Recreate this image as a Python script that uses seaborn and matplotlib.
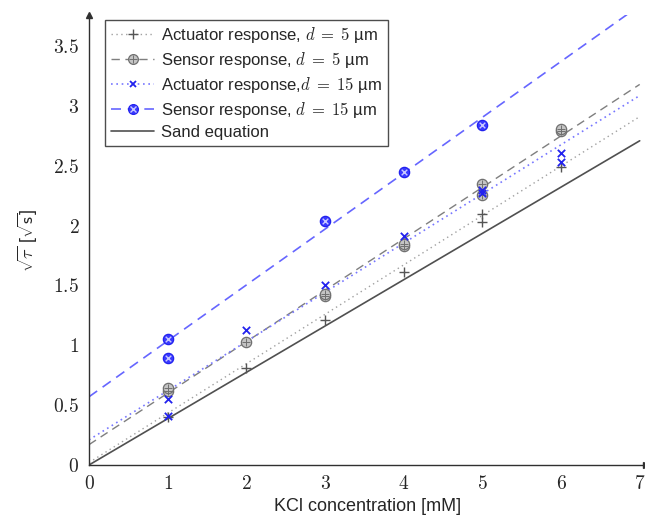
import numpy as np
import pandas as pd
import seaborn as sns
import matplotlib.pyplot as plt
from matplotlib.lines import Line2D

# KCl concentration [mM] and sqrt(tau) readings
act5_x = [1, 2, 3, 4, 5, 5, 6]
act5_y = [0.40, 0.81, 1.21, 1.61, 2.03, 2.10, 2.49]

sens5_x = [1, 1, 2, 3, 3, 4, 4, 5, 5, 6, 6]
sens5_y = [0.62, 0.64, 1.03, 1.41, 1.43, 1.83, 1.85, 2.26, 2.35, 2.79, 2.81]

act15_x = [1, 1, 2, 3, 4, 5, 5, 6, 6]
act15_y = [0.41, 0.55, 1.13, 1.50, 1.91, 2.27, 2.30, 2.53, 2.61]

sens15_x = [1, 1, 3, 4, 5]
sens15_y = [0.89, 1.05, 2.04, 2.45, 2.84]

# linear fits (intercept, slope)
fit_names = ["act5", "sens5", "act15", "sens15", "sand"]
fit_intercepts = [0.02, 0.17, 0.21, 0.57, 0.0]
fit_slopes = [0.413, 0.430, 0.411, 0.467, 0.387]
fit_range = [0, 7]

labels = [
    r"Actuator response, $d\;=\;\mathsf{5}$ µm",
    r"Sensor response, $d\;=\;\mathsf{5}$ µm",
    r"Actuator response,$d\;=\;\mathsf{15}$ µm",
    r"Sensor response, $d\;=\;\mathsf{15}$ µm",
    "Sand equation",
]

sns.set_style("white")
plt.rcParams["font.family"] = ["Liberation Sans", "DejaVu Sans"]
plt.rcParams["mathtext.fontset"] = "cm"

gray = "#7f7f7f"
blue = "#2222ee"
styles = {
    "act5": dict(color="#a0a0a0", ls=(0, (1, 2.5)), lw=1.0),
    "sens5": dict(color=gray, ls=(0, (6, 4)), lw=1.0),
    "act15": dict(color="#7777ff", ls=(0, (1, 2.2)), lw=1.2),
    "sens15": dict(color="#6666ff", ls=(0, (6, 4)), lw=1.2),
    "sand": dict(color="#505050", ls="-", lw=1.2),
}

fig = plt.figure(figsize=(6.45, 5.28), dpi=100)
ax = fig.add_axes([89 / 645, 1 - 465 / 528, 557 / 645, 450 / 528])

# fit lines
xs = np.array(fit_range, dtype=float)
for name, a, b in zip(fit_names, fit_intercepts, fit_slopes):
    df = pd.DataFrame({"x": xs, "y": a + b * xs})
    st = styles[name]
    sns.lineplot(data=df, x="x", y="y", ax=ax, color=st["color"],
                 linestyle=st["ls"], linewidth=st["lw"], zorder=2)

# measured points: (x, y, [(marker, face, edge, size, lw), ...])
pts = [
    (act5_x, act5_y, [("+", "#555555", "#555555", 55, 1.0)]),
    (sens5_x, sens5_y, [("o", "#c4c4c4", "#707070", 55, 0.9),
                        ("+", "#707070", "#707070", 30, 0.7)]),
    (act15_x, act15_y, [("x", blue, blue, 28, 1.3)]),
    (sens15_x, sens15_y, [("o", "#3a3aff", blue, 55, 0.9),
                          ("x", "#c8c8ff", "#c8c8ff", 16, 1.0)]),
]
for x, y, layers in pts:
    for m, fc, ec, s, lw in layers:
        sns.scatterplot(x=x, y=y, ax=ax, marker=m, color=fc, s=s,
                        linewidth=lw, edgecolor=ec, zorder=3)

ax.set_xlim(0, 7.08)
ax.set_ylim(0, 3.76)
ax.set_xticks(range(0, 8))
ax.set_xticklabels([f"${v}$" for v in range(0, 8)])
yt = [0, 0.5, 1, 1.5, 2, 2.5, 3, 3.5]
ax.set_yticks(yt)
ax.set_yticklabels([f"${v:g}$" for v in yt])
ax.tick_params(axis="both", direction="inout", length=6, width=0.6,
               color=gray, labelsize=14, pad=4)

for side in ["top", "right"]:
    ax.spines[side].set_visible(False)
for side in ["left", "bottom"]:
    ax.spines[side].set_color("#303030")
    ax.spines[side].set_linewidth(1.0)
ax.plot(1, 0, ">", transform=ax.transAxes, color="#303030", ms=4, clip_on=False)
ax.plot(0, 1, "^", transform=ax.transAxes, color="#303030", ms=4, clip_on=False)

ax.set_xlabel("KCl concentration [mM]", fontsize=13, labelpad=4)
ax.set_ylabel(r"$\sqrt{\tau}$ [$\sqrt{\mathsf{s}}$]", fontsize=13, labelpad=10)

handles = []
for name, (x, y, layers) in zip(fit_names[:4], pts):
    st = styles[name]
    parts = [Line2D([], [], color=st["color"], ls=st["ls"], lw=st["lw"])]
    for m, fc, ec, s, lw in layers:
        parts.append(Line2D([], [], ls="none", marker=m, markersize=np.sqrt(s) * 0.95,
                            markerfacecolor=fc, markeredgecolor=ec,
                            markeredgewidth=lw))
    handles.append(tuple(parts))
handles.append(Line2D([], [], color=styles["sand"]["color"],
                      ls=styles["sand"]["ls"], lw=styles["sand"]["lw"]))
leg = ax.legend(handles, labels, loc="upper left", bbox_to_anchor=(0.029, 0.99),
                borderaxespad=0, fontsize=12, handlelength=2.6, labelspacing=0.3,
                handletextpad=0.4, fancybox=False, frameon=True, borderpad=0.35)
leg.get_frame().set_edgecolor("#202020")
leg.get_frame().set_linewidth(1.0)

fig.savefig("out.png", dpi=100)
